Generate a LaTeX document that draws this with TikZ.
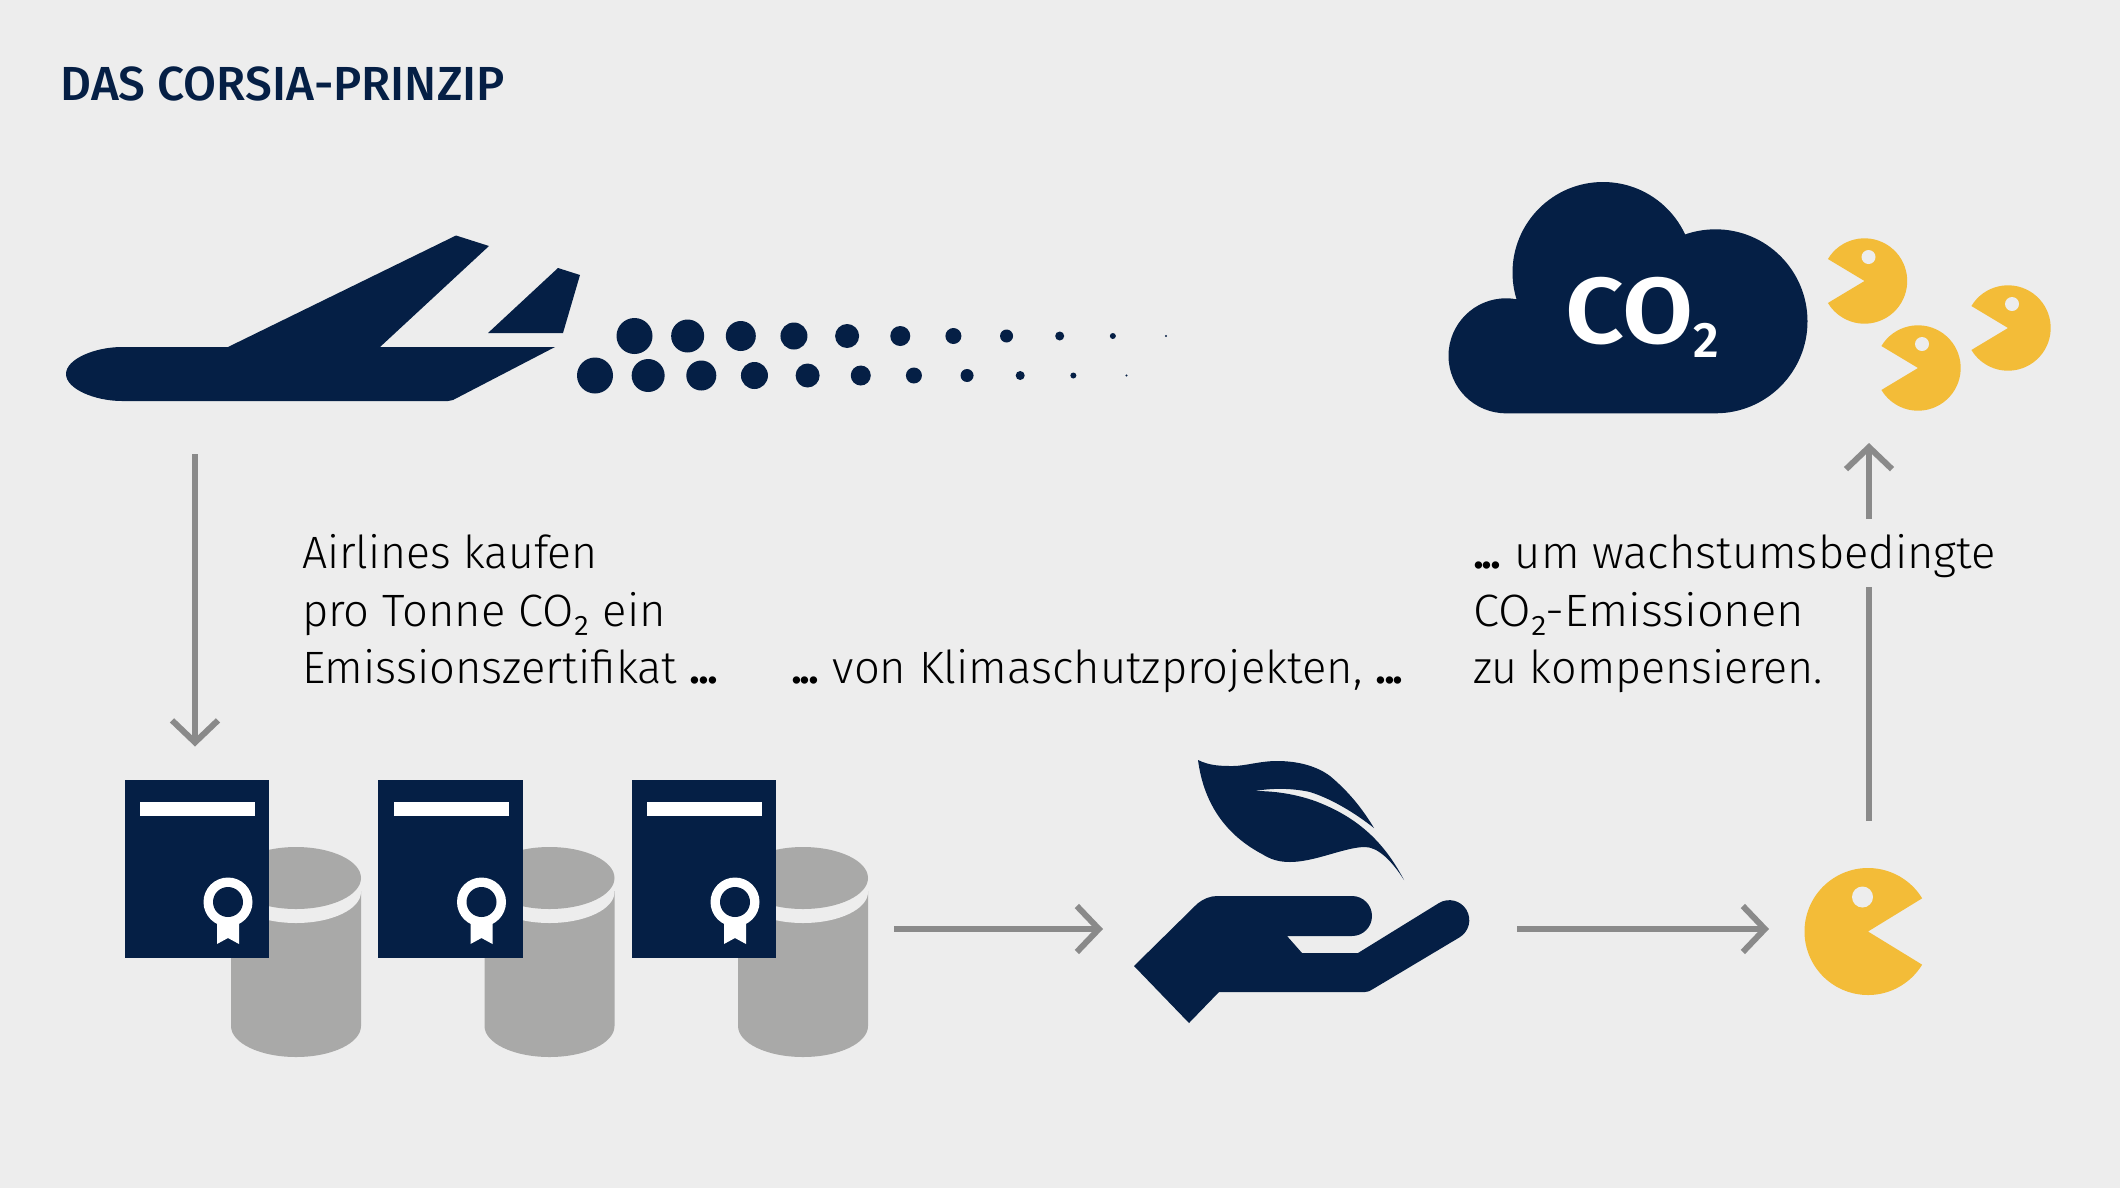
\documentclass[tikz,border=0pt]{standalone}
\usepackage{fontspec}
\usepackage{graphicx}
\setmainfont{Fira Sans Light}[BoldFont={Fira Sans Medium}]
\newfontfamily\heavyfont{Fira Sans SemiBold}
\usetikzlibrary{arrows.meta}
\definecolor{navy}{HTML}{051F45}
\definecolor{bgc}{HTML}{EDEDED}
\definecolor{yel}{HTML}{F3BC38}
\definecolor{gra}{HTML}{A9A9A8}
\definecolor{arr}{HTML}{8A8A8A}
\newcommand\tightdots{\textbf{.\kern-.045em.\kern-.045em.}}
\tikzset{
  txt/.style={anchor=base west,inner sep=0pt,outer sep=0pt,text=black,font=\fontsize{45.5}{58}\selectfont},
  ttl/.style={anchor=base west,inner sep=0pt,outer sep=0pt,text=navy,font=\fontsize{48}{50}\selectfont\bfseries},
  flow/.style={draw=arr,line width=6bp,-{Straight Barb[length=22bp,width=46bp,line width=6bp]}},
  flowplain/.style={draw=arr,line width=6bp},
}
\begin{document}
\begin{tikzpicture}[x=1bp,y=-1bp]
\useasboundingbox (0,-1) rectangle (2120,1187);
\fill[bgc] (0,-1) rectangle (2120,1187);
\node[ttl] (title) at (60.5,99) {DAS CORSIA-PRINZIP};
% plane
\fill[navy] (66,373) .. controls (66,358) and (95,346) .. (122,346) -- (228,346) -- (456,234.5) -- (489,245) -- (380,346) -- (555,346) -- (453,399) .. controls (451,400) and (450,400) .. (448,400) -- (122,400) .. controls (95,400) and (66,388) .. (66,373) -- cycle;
\fill[navy] (558,267) -- (580,274) -- (563,332) -- (488,332) -- cycle;
% exhaust dots
\foreach \i/\r in {0/18,1/16.5,2/15,3/13.5,4/12,5/10,6/8,7/6.5,8/4.5,9/3,10/1.2}{
  \fill[navy] (634.5+53.15*\i,335) circle[radius=\r bp];
  \fill[navy] (595+53.15*\i,374.5) circle[radius=\r bp];
}
% cloud
\fill[navy] (1506,354.8) circle[radius=57.5bp] (1603,271.5) circle[radius=90.5bp] (1715.5,320.3) circle[radius=92bp] (1506,300) rectangle (1715,412.3);
\node[anchor=base west,inner sep=0pt,text=white,font=\fontsize{94}{100}\selectfont\heavyfont] (co2) at (1565,342) {\scalebox{1.1}[1]{CO}\raisebox{-14bp}{\fontsize{50}{50}\selectfont 2}};
% pacmen
\foreach \x/\y in {1864.5/280,1918/367,2008/327}{
  \fill[yel] (\x,\y) -- ++(149:42.7bp) arc[start angle=149,end angle=-149,radius=42.7bp] -- cycle;
  \fill[bgc] (\x+4,\y-24) circle[radius=7bp];
}
\fill[yel] (1868,930.5) -- ++(31.5:63.5bp) arc[start angle=31.5,end angle=328.5,radius=63.5bp] -- cycle;
\fill[bgc] (1862.5,896) circle[radius=10.5bp];
% certificates with barrels
\foreach \d in {0,253.5,507}{
\begin{scope}[xshift=\d bp]
  \fill[gra] (231,890) -- (231,1025) arc[start angle=180,end angle=360,x radius=65bp,y radius=31bp] -- (361,890) -- cycle;
  \fill[bgc] (296,891) ellipse[x radius=65bp,y radius=31bp];
  \fill[gra] (296,877) ellipse[x radius=65bp,y radius=31bp];
  \fill[navy] (124.5,779) rectangle (269,957);
  \fill[white] (140,801) rectangle (255,815);
  \fill[white] (228,901) circle[radius=24.5bp];
  \fill[white] (217,915) -- (217,943) -- (228,937) -- (239,943) -- (239,915) -- cycle;
  \fill[navy] (228,901) circle[radius=15bp];
\end{scope}}
% hand
\fill[navy] (1134,965) -- (1197,903) .. controls (1203,898) and (1210,895) .. (1217,895) -- (1352,895) arc[start angle=90,end angle=-90,radius=20bp] -- (1287,935) -- (1302,952) -- (1358,952) -- (1439,902) arc[start angle=121,end angle=-59,radius=20bp] -- (1373,988) .. controls (1370,990) and (1368,991) .. (1365,991) -- (1219,991) -- (1189,1022) -- cycle;
% leaf
\fill[navy] (1198,759) .. controls (1210,765) and (1222,765) .. (1233,765) .. controls (1245,765) and (1260,760) .. (1277,760) .. controls (1300,760) and (1318,766) .. (1330,775) .. controls (1348,790) and (1362,807) .. (1374,827) .. controls (1355,812) and (1332,798) .. (1310,791) .. controls (1292,787) and (1272,787) .. (1255,790) .. controls (1275,790) and (1295,793) .. (1315,800) .. controls (1360,817) and (1385,843) .. (1404,879) .. controls (1392,860) and (1378,846) .. (1365,846) .. controls (1345,846) and (1315,861) .. (1290,861) .. controls (1278,861) and (1270,858) .. (1262,853) .. controls (1228,835) and (1204,805) .. (1198,759) -- cycle;
% texts
\node[txt] (t1) at (302,567) {\scalebox{.982}[1]{Airlines kaufen}};
\node[txt] (t2) at (302,625) {pro Tonne CO₂ ein};
\node[txt] (t3) at (302,682) {Emissionszertifikat \tightdots};
\node[txt] (t4) at (791,682) {\tightdots\kern-.08em{} von Klimaschutzprojekten, \tightdots};
\node[txt] (t5) at (1473,567) {\tightdots\kern-.08em{} um wachstumsbedingte};
\node[txt] (t6) at (1473,625) {\scalebox{1.04}[1]{CO₂-Emissionen}};
\node[txt] (t7) at (1473,682) {\scalebox{.988}[1]{zu kompensieren.}};
% connectors
\coordinate (a1s) at (195,453); \coordinate (a1e) at (195,745.5);
\coordinate (a2s) at (894,928); \coordinate (a2e) at (1103,928);
\coordinate (a3s) at (1517,928); \coordinate (a3e) at (1769,928);
\coordinate (a4s) at (1869,820); \coordinate (a4m) at (1869,586);
\coordinate (a5s) at (1869,518); \coordinate (a5e) at (1869,442);
\draw[flow] (a1s) -- (a1e);
\draw[flow] (a2s) -- (a2e);
\draw[flow] (a3s) -- (a3e);
\draw[flowplain] (a4s) -- (a4m);
\draw[flow] (a5s) -- (a5e);
\end{tikzpicture}
\end{document}
